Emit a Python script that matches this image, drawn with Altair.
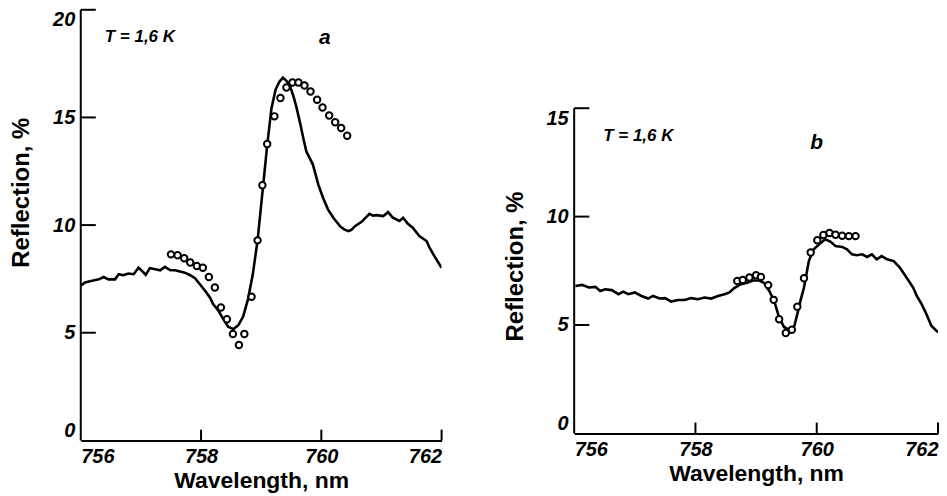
import altair as alt
import pandas as pd

FONT = "Liberation Sans"

# ---------------- Panel a data ----------------
a_line_x = [756.00, 756.07, 756.19, 756.30, 756.38, 756.46, 756.57, 756.63, 756.71, 756.79,
            756.88, 756.96, 757.02, 757.08, 757.15, 757.24, 757.32, 757.40, 757.49, 757.57,
            757.65, 757.73, 757.82, 757.90, 757.98, 758.07, 758.15, 758.20, 758.29, 758.37,
            758.45, 758.54, 758.62, 758.70, 758.78, 758.86, 758.94, 759.02, 759.10, 759.17,
            759.24, 759.30, 759.36, 759.42, 759.48, 759.54, 759.59, 759.65, 759.70, 759.75,
            759.86, 759.95, 760.03, 760.11, 760.20, 760.31, 760.38, 760.45, 760.50, 760.56,
            760.67, 760.80, 760.86, 760.92, 761.03, 761.11, 761.19, 761.30, 761.36, 761.44,
            761.52, 761.63, 761.75, 761.80, 761.88, 762.00]
a_line_y = [7.18, 7.33, 7.41, 7.48, 7.59, 7.48, 7.48, 7.72, 7.67, 7.75,
            7.72, 8.02, 7.87, 7.69, 8.00, 7.95, 7.90, 8.06, 7.90, 7.90,
            7.84, 7.79, 7.67, 7.53, 7.25, 6.94, 6.63, 6.33, 6.02, 5.63,
            5.28, 5.17, 5.35, 5.75, 6.55, 7.70, 9.29, 11.50, 13.70, 15.40,
            16.30, 16.65, 16.85, 16.70, 16.45, 15.95, 15.43, 14.70, 14.04, 13.43,
            12.81, 11.88, 11.26, 10.73, 10.34, 9.95, 9.80, 9.72, 9.78, 9.95,
            10.15, 10.52, 10.44, 10.46, 10.42, 10.60, 10.34, 10.19, 10.34, 10.06,
            9.88, 9.49, 9.26, 8.95, 8.56, 8.02]
a_pts_x = [757.50, 757.61, 757.72, 757.82, 757.93, 758.03, 758.13, 758.23, 758.33, 758.43,
           758.53, 758.63, 758.72, 758.84, 758.94, 759.02, 759.10, 759.22, 759.32, 759.42,
           759.52, 759.62, 759.72, 759.82, 759.93, 760.02, 760.13, 760.23, 760.33, 760.43]
a_pts_y = [8.64, 8.60, 8.46, 8.26, 8.10, 8.02, 7.59, 7.10, 6.17, 5.63,
           4.94, 4.43, 4.94, 6.67, 9.29, 11.85, 13.77, 15.05, 15.90, 16.39,
           16.62, 16.62, 16.48, 16.20, 15.82, 15.46, 15.09, 14.78, 14.51, 14.15]

# ---------------- Panel b data ----------------
b_line_x = [756.02, 756.13, 756.24, 756.35, 756.43, 756.51, 756.62, 756.73, 756.81, 756.89,
            757.00, 757.11, 757.22, 757.30, 757.41, 757.50, 757.60, 757.71, 757.82, 757.93,
            758.04, 758.15, 758.26, 758.37, 758.48, 758.56, 758.64, 758.75, 758.85, 758.95,
            759.05, 759.13, 759.22, 759.30, 759.38, 759.46, 759.55, 759.63, 759.68, 759.73,
            759.79, 759.87, 759.95, 760.04, 760.14, 760.23, 760.31, 760.42, 760.50, 760.58,
            760.66, 760.75, 760.83, 760.91, 760.99, 761.07, 761.16, 761.27, 761.37, 761.48,
            761.59, 761.65, 761.73, 761.81, 761.89, 762.00]
b_line_y = [6.80, 6.85, 6.73, 6.76, 6.57, 6.65, 6.61, 6.42, 6.54, 6.42,
            6.50, 6.34, 6.22, 6.34, 6.22, 6.24, 6.08, 6.15, 6.15, 6.24,
            6.19, 6.27, 6.22, 6.34, 6.42, 6.50, 6.70, 6.88, 6.95, 7.05,
            7.05, 6.95, 6.56, 6.10, 5.34, 4.91, 4.76, 4.95, 5.50, 6.10,
            6.73, 7.95, 8.49, 8.72, 8.95, 8.84, 8.64, 8.60, 8.49, 8.26,
            8.22, 8.26, 8.14, 8.26, 8.03, 8.18, 8.03, 7.95, 7.65, 7.19,
            6.73, 6.34, 5.96, 5.50, 4.97, 4.66]
b_pts_x = [758.69, 758.78, 758.89, 759.00, 759.08, 759.20, 759.29, 759.38, 759.49, 759.59,
           759.68, 759.79, 759.90, 760.01, 760.11, 760.21, 760.31, 760.42, 760.53, 760.64]
b_pts_y = [7.03, 7.08, 7.19, 7.30, 7.22, 6.84, 6.16, 5.27, 4.63, 4.78,
           5.84, 7.16, 8.34, 8.91, 9.15, 9.24, 9.16, 9.12, 9.10, 9.10]

x_ticks = [756, 758, 760, 762]
a_y_ticks = [0, 5, 10, 15, 20]
b_y_ticks = [0, 5, 10, 15]

a_label_temp = "T = 1,6 K"
a_label_panel = "a"
b_label_temp = "T = 1,6 K"
b_label_panel = "b"


def panel(lx, ly, px, py, yticks, ymax, width, height, temp_pos, panel_pos,
          temp_text, panel_text, label_baseline, title_x, title_y):
    xs = alt.Scale(domain=[756, 762], nice=False, zero=False)
    ys = alt.Scale(domain=[0, ymax], nice=False)
    xaxis = alt.Axis(values=x_ticks, ticks=False, grid=False, domainColor="black",
                     domainWidth=2, labelFlush=True, labelFont=FONT, labelFontSize=20,
                     labelFontStyle="italic", labelFontWeight="bold", labelColor="black",
                     labelPadding=6, title="Wavelength, nm", titleFont=FONT,
                     titleFontSize=23, titleFontWeight="bold", titleColor="black",
                     titlePadding=3, format="d")
    yaxis = alt.Axis(values=yticks, ticks=False, grid=False, domain=False,
                     labelFont=FONT, labelFontSize=20, labelFontStyle="italic",
                     labelFontWeight="bold", labelColor="black", labelPadding=6,
                     labelBaseline=label_baseline,
                     title="Reflection, %", titleFont=FONT, titleFontSize=24,
                     titleFontWeight="bold", titleColor="black",
                     titleX=title_x, titleY=title_y, titleAngle=-90,
                     titleBaseline="bottom", titleAlign="center")

    line_df = pd.DataFrame({"x": lx, "y": ly})
    pts_df = pd.DataFrame({"x": px, "y": py})

    line = alt.Chart(line_df).mark_line(color="black", strokeWidth=2.6, clip=True).encode(
        x=alt.X("x:Q", scale=xs, axis=xaxis),
        y=alt.Y("y:Q", scale=ys, axis=yaxis),
    )
    pts = alt.Chart(pts_df).mark_point(shape="circle", size=42, filled=True, fill="white",
                                       stroke="black", strokeWidth=2, opacity=1).encode(
        x=alt.X("x:Q", scale=xs), y=alt.Y("y:Q", scale=ys))

    # y axis line
    yline_df = pd.DataFrame({"x": [756], "y": [0], "y2": [yticks[-1]]})
    yline = alt.Chart(yline_df).mark_rule(color="black", strokeWidth=2).encode(
        x=alt.X("x:Q", scale=xs), y=alt.Y("y:Q", scale=ys), y2="y2:Q")
    # inward y ticks
    ytick_df = pd.DataFrame({"y": yticks[1:], "x": [756] * (len(yticks) - 1),
                             "x2": [756.25] * (len(yticks) - 1)})
    ytk = alt.Chart(ytick_df).mark_rule(color="black", strokeWidth=2).encode(
        x=alt.X("x:Q", scale=xs), x2="x2:Q", y=alt.Y("y:Q", scale=ys))
    # inward x ticks
    xtick_df = pd.DataFrame({"x": x_ticks[1:], "y": [0] * (len(x_ticks) - 1),
                             "y2": [0.5] * (len(x_ticks) - 1)})
    xtk = alt.Chart(xtick_df).mark_rule(color="black", strokeWidth=2).encode(
        x=alt.X("x:Q", scale=xs), y=alt.Y("y:Q", scale=ys), y2="y2:Q")

    t1 = alt.Chart(pd.DataFrame({"x": [temp_pos[0]], "y": [temp_pos[1]], "t": [temp_text]})).mark_text(
        align="left", baseline="middle", font=FONT, fontSize=17, fontStyle="italic",
        fontWeight="bold", color="black").encode(
        x=alt.X("x:Q", scale=xs), y=alt.Y("y:Q", scale=ys), text="t:N")
    t2 = alt.Chart(pd.DataFrame({"x": [panel_pos[0]], "y": [panel_pos[1]], "t": [panel_text]})).mark_text(
        align="center", baseline="middle", font=FONT, fontSize=21, fontStyle="italic",
        fontWeight="bold", color="black").encode(
        x=alt.X("x:Q", scale=xs), y=alt.Y("y:Q", scale=ys), text="t:N")

    return alt.layer(line, yline, ytk, xtk, pts, t1, t2).properties(width=width, height=height)


a_baseline = {"condition": [{"test": "datum.value == 20", "value": "top"},
                            {"test": "datum.value == 0", "value": "bottom"}],
              "value": "middle"}
b_baseline = {"condition": [{"test": "datum.value == 15", "value": "top"},
                            {"test": "datum.value == 0", "value": "bottom"}],
              "value": "middle"}

pa = panel(a_line_x, a_line_y, a_pts_x, a_pts_y, a_y_ticks, 20, 362, 432,
           (756.4, 18.75), (760.06, 18.7), a_label_temp, a_label_panel, a_baseline, -47, 183)
pb = panel(b_line_x, b_line_y, b_pts_x, b_pts_y, b_y_ticks, 19.54, 365, 425,
           (756.48, 13.7), (760.0, 13.4), b_label_temp, b_label_panel, b_baseline, -47, 257)

chart = alt.hconcat(pa, pb, spacing=133, bounds="flush").configure_view(stroke=None).properties(
    padding={"left": 2, "top": 0, "right": 0, "bottom": 0}, background="white")

chart.save("out.html", embed_options={"renderer": "svg", "actions": False})
